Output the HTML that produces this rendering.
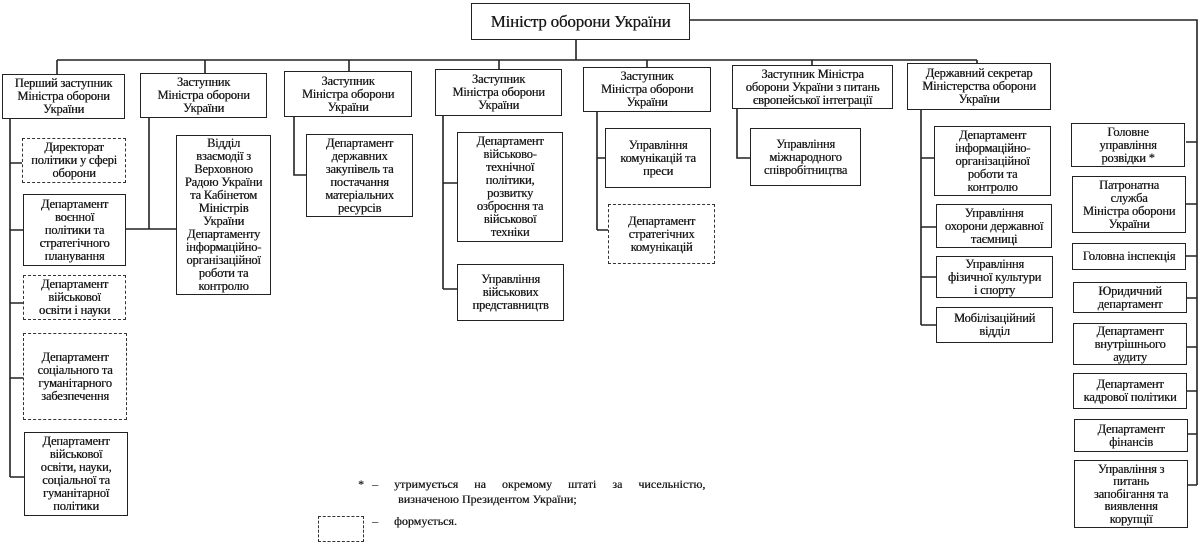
<!DOCTYPE html>
<html><head><meta charset="utf-8"><style>
body{margin:0;width:1200px;height:532px;background:#fff;position:relative;overflow:hidden;font-family:"Liberation Serif","DejaVu Serif",serif;color:#1a1a1a}
.b{position:absolute;box-sizing:border-box;border:1.7px solid #222;display:flex;align-items:center;justify-content:center;text-align:center;font-size:12.5px;line-height:13px;background:#fff;white-space:nowrap;text-shadow:0.3px 0 0 #1a1a1a;letter-spacing:-0.2px}
.d{border:1.5px dashed #333}
svg{position:absolute;left:0;top:0}
.t{position:absolute;font-size:12px;white-space:nowrap;text-shadow:0.3px 0 0 #1a1a1a}
</style></head><body>
<svg width="1200" height="532"><g stroke="#222" stroke-width="1.6" fill="none">
<path d="M576 40V60M57 60H977M57 60V74M205 60V73M349 60V71M499 60V69M647 60V67M812 60V65M977 60V63"/>
<path d="M690 20H1197V485"/>
<path d="M1186 142H1197M1186 204H1197M1186 256H1197M1187 298H1197M1187 347H1197M1187 391H1197M1188 434H1197M1188 485H1197"/>
<path d="M10 119V477M10 163H22M10 230H23M10 303H23M10 378H23M10 477H24"/>
<path d="M149 118V229M126 229H176"/>
<path d="M294 117V175H306"/>
<path d="M443 116V289M443 183H457M443 289H457"/>
<path d="M597 112V230M597 158H605M597 230H608"/>
<path d="M737 109V158H750"/>
<path d="M921 110V325M921 158H934M921 227H936M921 277H936M921 325H936"/>
</g></svg>
<div class="b" style="left:471px;top:3px;width:219px;height:37px;font-size:17px">Міністр оборони України</div>
<div class="b" style="left:2px;top:74px;width:123px;height:45px">Перший заступник<br>Міністра оборони<br>України</div>
<div class="b" style="left:140px;top:73px;width:127px;height:45px">Заступник<br>Міністра оборони<br>України</div>
<div class="b" style="left:284px;top:71px;width:128px;height:46px">Заступник<br>Міністра оборони<br>України</div>
<div class="b" style="left:435px;top:69px;width:127px;height:47px">Заступник<br>Міністра оборони<br>України</div>
<div class="b" style="left:583px;top:67px;width:128px;height:45px">Заступник<br>Міністра оборони<br>України</div>
<div class="b" style="left:732px;top:65px;width:161px;height:44px">Заступник Міністра<br>оборони України з питань<br>європейської інтеграції</div>
<div class="b" style="left:907px;top:63px;width:144px;height:47px">Державний секретар<br>Міністерства оборони<br>України</div>

<div class="b d" style="left:22px;top:138px;width:104px;height:45px">Директорат<br>політики у сфері<br>оборони</div>
<div class="b" style="left:23px;top:194px;width:103px;height:72px">Департамент<br>воєнної<br>політики та<br>стратегічного<br>планування</div>
<div class="b d" style="left:23px;top:275px;width:103px;height:45px">Департамент<br>військової<br>освіти і науки</div>
<div class="b d" style="left:23px;top:333px;width:104px;height:87px">Департамент<br>соціального та<br>гуманітарного<br>забезпечення</div>
<div class="b" style="left:24px;top:432px;width:104px;height:84px">Департамент<br>військової<br>освіти, науки,<br>соціальної та<br>гуманітарної<br>політики</div>

<div class="b" style="left:176px;top:135px;width:95px;height:160px">Відділ<br>взаємодії з<br>Верховною<br>Радою України<br>та Кабінетом<br>Міністрів<br>України<br>Департаменту<br>інформаційно-<br>організаційної<br>роботи та<br>контролю</div>
<div class="b" style="left:306px;top:134px;width:107px;height:83px">Департамент<br>державних<br>закупівель та<br>постачання<br>матеріальних<br>ресурсів</div>
<div class="b" style="left:457px;top:132px;width:106px;height:110px">Департамент<br>військово-<br>технічної<br>політики,<br>розвитку<br>озброєння та<br>військової<br>техніки</div>
<div class="b" style="left:457px;top:264px;width:107px;height:57px">Управління<br>військових<br>представництв</div>
<div class="b" style="left:605px;top:128px;width:106px;height:60px">Управління<br>комунікацій та<br>преси</div>
<div class="b d" style="left:608px;top:204px;width:107px;height:60px">Департамент<br>стратегічних<br>комунікацій</div>
<div class="b" style="left:750px;top:128px;width:111px;height:58px">Управління<br>міжнародного<br>співробітництва</div>
<div class="b" style="left:934px;top:126px;width:117px;height:70px">Департамент<br>інформаційно-<br>організаційної<br>роботи та<br>контролю</div>
<div class="b" style="left:936px;top:204px;width:116px;height:44px">Управління<br>охорони державної<br>таємниці</div>
<div class="b" style="left:936px;top:256px;width:117px;height:42px">Управління<br>фізичної культури<br>і спорту</div>
<div class="b" style="left:936px;top:307px;width:117px;height:36px">Мобілізаційний<br>відділ</div>

<div class="b" style="left:1071px;top:123px;width:114px;height:44px">Головне<br>управління<br>розвідки *</div>
<div class="b" style="left:1072px;top:176px;width:114px;height:57px">Патронатна<br>служба<br>Міністра оборони<br>України</div>
<div class="b" style="left:1072px;top:243px;width:114px;height:27px">Головна інспекція</div>
<div class="b" style="left:1073px;top:282px;width:114px;height:31px">Юридичний<br>департамент</div>
<div class="b" style="left:1073px;top:323px;width:114px;height:42px">Департамент<br>внутрішнього<br>аудиту</div>
<div class="b" style="left:1073px;top:373px;width:114px;height:36px">Департамент<br>кадрової політики</div>
<div class="b" style="left:1074px;top:419px;width:114px;height:33px">Департамент<br>фінансів</div>
<div class="b" style="left:1074px;top:460px;width:114px;height:68px;line-height:12.5px">Управління з<br>питань<br>запобігання та<br>виявлення<br>корупції</div>

<div class="t" style="left:358px;top:477px">*</div>
<div class="t" style="left:372px;top:477px">–</div>
<div class="t" style="left:394px;top:477px;word-spacing:13px">утримується на окремому штаті за чисельністю,</div>
<div class="t" style="left:398px;top:492px">визначеною Президентом України;</div>
<div style="position:absolute;left:318px;top:516px;width:44px;height:24px;border:1.5px dashed #333"></div>
<div class="t" style="left:372px;top:514px">–</div>
<div class="t" style="left:394px;top:514px">формується.</div>
</body></html>
